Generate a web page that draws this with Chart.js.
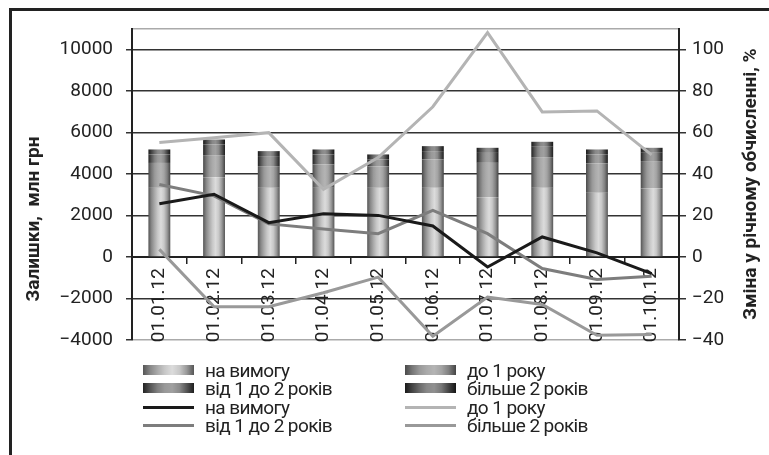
<!DOCTYPE html>
<html>
<head>
<meta charset="utf-8">
<script src="https://cdn.jsdelivr.net/npm/chart.js@4.4.0/dist/chart.umd.min.js"></script>
<style>
body { margin: 0; background: #fff; overflow: hidden; font-family: Roboto, sans-serif; }
#wrap { position: relative; width: 769px; height: 455px; overflow: hidden; }
#frame { position: absolute; left: 9px; top: 8px; width: 800px; height: 500px; border-left: 3px solid #222; border-top: 3px solid #222; }
.item { position: absolute; display: flex; align-items: center; height: 18px; font-size: 19px; letter-spacing: -0.6px; color: #222; white-space: nowrap; }
.sw { width: 51px; margin-right: 11px; }
</style>
</head>
<body>
<div id="wrap">
  <div id="frame"></div>
  <canvas id="chart" width="769" height="455"></canvas>
  <div id="legend"></div>
</div>
<script>
const labels = ["01.01.12", "01.02.12", "01.03.12", "01.04.12", "01.05.12",
                "01.06.12", "01.07.12", "01.08.12", "01.09.12", "01.10.12"];

// залишки, млн грн
const onDemand = [3340, 3855, 3340, 3340, 3340, 3340, 2890, 3340, 3100, 3310];
const upTo1Year = [1200, 1060, 1045, 1130, 1030, 1370, 1655, 1480, 1415, 1320];
const from1to2 = [410, 515, 485, 480, 340, 400, 480, 500, 435, 400];
const over2 = [240, 240, 240, 240, 240, 240, 245, 240, 240, 240];

// зміна у річному обчисленні, %
const onDemandChg = [25.7, 30.3, 16.6, 20.9, 20.1, 15, -4.8, 9.7, 2, -8];
const upTo1YearChg = [55.2, 57.5, 60, 32.7, 48, 72.5, 108.3, 70, 70.5, 49.3];
const from1to2Chg = [35, 29.5, 16, 13.5, 11.3, 22.5, 11.3, -5.5, -10.8, -9.2];
const over2Chg = [3.7, -24, -24, -17.2, -9.7, -38.2, -19.3, -22.9, -37.7, -37.3];

const leftTicks = [-4000, -2000, 0, 2000, 4000, 6000, 8000, 10000];
const rightTicks = [-40, -20, 0, 20, 40, 60, 80, 100];

const barPct = 0.4;
const tickFont = { family: "Roboto", size: 19 };
const titleFont = "bold 19px Roboto";

const shades = {
    onDemand: ["#555", "#888", "#aaa", "#c8c8c8", "#dcdcdc", "#c8c8c8", "#999", "#555"],
    upTo1Year: ["#4a4a4a", "#777", "#999", "#aaa", "#b4b4b4", "#a4a4a4", "#808080", "#444"],
    from1to2: ["#222", "#555", "#808080", "#999", "#a0a0a0", "#8a8a8a", "#555", "#1e1e1e"],
    over2: ["#1a1a1a", "#444", "#6a6a6a", "#888", "#909090", "#777", "#444", "#151515"],
};

function barGradient(stops) {
    return function (c) {
        const chart = c.chart;
        const x = chart.scales.x;
        if (c.type !== "data" || !chart.chartArea || !x) return stops[4];
        const cx = x.getPixelForValue(c.dataIndex);
        const w = (x.width / labels.length) * barPct;
        const g = chart.ctx.createLinearGradient(cx - w / 2, 0, cx + w / 2, 0);
        stops.forEach((s, i) => g.addColorStop(i / (stops.length - 1), s));
        return g;
    };
}

function bar(label, data, stops) {
    return {
        type: "bar", label, data, stops,
        backgroundColor: barGradient(stops),
        borderWidth: 0,
        barPercentage: barPct,
        categoryPercentage: 1,
        yAxisID: "y",
        order: 1,
    };
}

function line(label, data, color) {
    return {
        type: "line", label, data,
        borderColor: color,
        borderWidth: 3,
        pointRadius: 0,
        tension: 0,
        fill: false,
        yAxisID: "y1",
        order: 0,
    };
}

const titles = {
    id: "titles",
    afterDraw(chart) {
        const ctx = chart.ctx;
        ctx.save();
        ctx.fillStyle = "#222";
        ctx.font = titleFont;
        ctx.textAlign = "center";
        ctx.textBaseline = "middle";
        ctx.translate(34, 219);
        ctx.rotate(-Math.PI / 2);
        ctx.fillText("Залишки,  млн грн", 0, 0);
        ctx.restore();
        ctx.save();
        ctx.fillStyle = "#222";
        ctx.font = titleFont;
        ctx.textAlign = "center";
        ctx.textBaseline = "middle";
        ctx.translate(751, 184);
        ctx.rotate(-Math.PI / 2);
        ctx.fillText("Зміна у річному обчисленні, %", 0, 0);
        ctx.restore();
    },
};

const chart = new Chart(document.getElementById("chart"), {
    type: "bar",
    data: {
        labels: labels,
        datasets: [
            bar("на вимогу", onDemand, shades.onDemand),
            bar("до 1 року", upTo1Year, shades.upTo1Year),
            bar("від 1 до 2 років", from1to2, shades.from1to2),
            bar("більше 2 років", over2, shades.over2),
            line("на вимогу", onDemandChg, "#1a1a1a"),
            line("до 1 року", upTo1YearChg, "#b4b4b4"),
            line("від 1 до 2 років", from1to2Chg, "#7d7d7d"),
            line("більше 2 років", over2Chg, "#999"),
        ],
    },
    options: {
        responsive: false,
        animation: false,
        layout: { padding: { top: 29, bottom: 115, left: 0, right: 0 } },
        plugins: {
            legend: { display: false },
            tooltip: { enabled: false },
        },
        scales: {
            x: {
                stacked: true,
                position: { y: 0 },
                offset: true,
                grid: { offset: true, drawOnChartArea: false, tickLength: 6, color: "#222", lineWidth: 1.5 },
                border: { color: "#222", width: 2 },
                ticks: { minRotation: 90, maxRotation: 90, padding: 5, color: "#222", font: tickFont },
            },
            y: {
                stacked: true,
                position: "left",
                min: -4000,
                max: 11000,
                afterBuildTicks: (s) => { s.ticks = leftTicks.concat([11000]).map((v) => ({ value: v })); },
                afterFit: (s) => { s.width = 132; },
                grid: {
                    tickLength: 6,
                    lineWidth: 1.5,
                    color: (c) => (c.tick && (c.tick.value === -4000 || c.tick.value === 11000) ? "#aaa" : "#333"),
                    tickColor: (c) => (c.tick && c.tick.value === 11000 ? "rgba(0,0,0,0)" : "#333"),
                },
                border: { color: "#222", width: 2 },
                ticks: {
                    padding: 13,
                    color: "#222",
                    font: tickFont,
                    callback: (v) => (v === 11000 ? "" : (v < 0 ? "\u2212" + Math.abs(v) : v)),
                },
            },
            y1: {
                position: "right",
                min: -40,
                max: 110,
                afterBuildTicks: (s) => { s.ticks = rightTicks.concat([110]).map((v) => ({ value: v })); },
                afterFit: (s) => { s.width = 90; },
                grid: {
                    drawOnChartArea: false,
                    tickLength: 7,
                    lineWidth: 1.5,
                    tickColor: (c) => (c.tick && c.tick.value === 110 ? "rgba(0,0,0,0)" : "#333"),
                },
                border: { color: "#222", width: 2 },
                ticks: {
                    padding: 6,
                    color: "#222",
                    font: tickFont,
                    callback: (v) => (v === 110 ? "" : (v < 0 ? "\u2212" + Math.abs(v) : v)),
                },
            },
        },
    },
    plugins: [titles],
});

// легенда у два стовпці, як в оригіналі
const legend = document.getElementById("legend");
const colX = [143, 405];
const rowY = [370, 388, 407, 425];
chart.data.datasets.forEach((ds, i) => {
    const item = document.createElement("div");
    item.className = "item";
    item.style.left = colX[i % 2] + "px";
    item.style.top = rowY[Math.floor(i / 2)] - 9 + "px";
    const sw = document.createElement("span");
    sw.className = "sw";
    if (ds.type === "bar") {
        sw.style.height = "10px";
        sw.style.background = "linear-gradient(to right, " + ds.stops.join(", ") + ")";
    } else {
        sw.style.height = "3px";
        sw.style.background = ds.borderColor;
    }
    const txt = document.createElement("span");
    txt.textContent = ds.label;
    item.appendChild(sw);
    item.appendChild(txt);
    legend.appendChild(item);
});
</script>
</body>
</html>
